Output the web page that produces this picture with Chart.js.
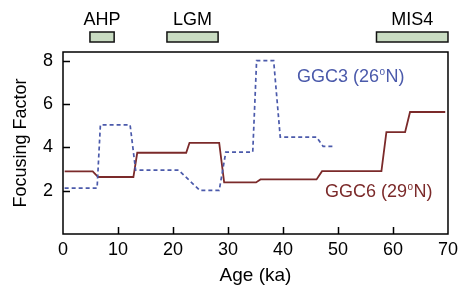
<!DOCTYPE html>
<html>
<head>
<meta charset="utf-8">
<script src="https://cdn.jsdelivr.net/npm/chart.js@4.4.0/dist/chart.umd.min.js"></script>
<style>
  html, body { margin: 0; padding: 0; background: #fff; }
  #wrap { width: 463px; height: 288px; }
</style>
</head>
<body>
<div id="wrap"><canvas id="chart"></canvas></div>
<script>
// GGC6 (29°N), solid maroon
const ggc6Age = [0.3, 5.4, 6.4, 12.8, 13.5, 22.4, 23.0, 28.4, 29.3, 35.1, 35.9, 46.1, 47.1, 57.9, 58.8, 62.2, 63.1, 69.5];
const ggc6Val = [2.89, 2.89, 2.63, 2.63, 3.75, 3.75, 4.21, 4.21, 2.38, 2.38, 2.52, 2.52, 2.9, 2.9, 4.7, 4.7, 5.63, 5.63];

// GGC3 (26°N), dashed blue
const ggc3Age = [0.3, 6.2, 6.8, 12.2, 13.2, 21.0, 24.9, 28.4, 29.6, 34.5, 35.2, 38.3, 39.5, 46.1, 47.3, 49.2];
const ggc3Val = [2.12, 2.12, 5.04, 5.04, 2.95, 2.95, 2.01, 2.01, 3.78, 3.78, 8.0, 8.0, 4.47, 4.47, 4.04, 4.04];

// climate periods on top (ka)
const periodNames = ["AHP", "LGM", "MIS4"];
const periodStart = [4.9, 18.9, 57.0];
const periodEnd = [9.3, 28.2, 70.0];

const xTicks = [0, 10, 20, 30, 40, 50, 60, 70];
const yTicks = [2, 4, 6, 8];

const FONT = "'Liberation Sans', Arial, sans-serif";

const toPoints = (xs, ys) => xs.map((x, i) => ({ x: x, y: ys[i] }));

// frame, inner ticks, period bars and series labels
const decorations = {
  id: "decorations",
  afterDraw(chart) {
    const ctx = chart.ctx;
    const a = chart.chartArea;
    const xs = chart.scales.x;
    const ys = chart.scales.y;
    ctx.save();
    ctx.strokeStyle = "#000";
    ctx.lineWidth = 1.5;
    ctx.strokeRect(a.left, a.top, a.right - a.left, a.bottom - a.top);

    ctx.beginPath();
    xTicks.slice(1, -1).forEach(v => {
      const px = Math.round(xs.getPixelForValue(v)) + 0.5;
      ctx.moveTo(px, a.bottom);
      ctx.lineTo(px, a.bottom - 7);
    });
    yTicks.forEach(v => {
      const py = Math.round(ys.getPixelForValue(v)) + 0.5;
      ctx.moveTo(a.left, py);
      ctx.lineTo(a.left + 7, py);
    });
    ctx.stroke();

    // period bars
    ctx.font = "18px " + FONT;
    ctx.textAlign = "center";
    ctx.textBaseline = "middle";
    periodNames.forEach((name, i) => {
      const x0 = xs.getPixelForValue(periodStart[i]);
      const x1 = xs.getPixelForValue(periodEnd[i]);
      ctx.fillStyle = "#c9dcc2";
      ctx.fillRect(x0, 32, x1 - x0, 10);
      ctx.strokeStyle = "#111";
      ctx.lineWidth = 1.5;
      ctx.strokeRect(x0, 32, x1 - x0, 10);
      ctx.fillStyle = "#000";
      ctx.fillText(name, (x0 + x1) / 2, 20);
    });

    // series labels
    const label = (txt, x, y, color) => {
      ctx.fillStyle = color;
      ctx.textAlign = "left";
      ctx.font = "18px " + FONT;
      const parts = txt.split("°");
      ctx.fillText(parts[0], x, y);
      let w = ctx.measureText(parts[0]).width;
      ctx.font = "10px " + FONT;
      ctx.fillText("o", x + w + 0.5, y - 5);
      w += ctx.measureText("o").width + 1;
      ctx.font = "18px " + FONT;
      ctx.fillText(parts[1], x + w, y);
    };
    label("GGC3 (26°N)", 297, 77, "#4b5aab");
    label("GGC6 (29°N)", 325, 192, "#7b2a2a");
    ctx.restore();
  }
};

new Chart(document.getElementById("chart"), {
  type: "line",
  data: {
    datasets: [
      {
        label: "GGC3 (26°N)",
        data: toPoints(ggc3Age, ggc3Val),
        borderColor: "#4b5aab",
        borderWidth: 1.7,
        borderDash: [4, 3],
        pointRadius: 0,
        tension: 0,
      },
      {
        label: "GGC6 (29°N)",
        data: toPoints(ggc6Age, ggc6Val),
        borderColor: "#7b2a2a",
        borderWidth: 1.8,
        pointRadius: 0,
        tension: 0,
      },
    ],
  },
  options: {
    responsive: true,
    maintainAspectRatio: false,
    animation: false,
    layout: { padding: { left: 0, right: 10, top: 52, bottom: 0 } },
    plugins: {
      legend: { display: false },
      tooltip: { enabled: false },
    },
    scales: {
      x: {
        type: "linear",
        min: 0,
        max: 70,
        afterBuildTicks: s => { s.ticks = xTicks.map(v => ({ value: v })); },
        afterFit: s => { s.height = 54; },
        grid: { display: false, drawTicks: false },
        border: { display: false },
        ticks: {
          color: "#000",
          font: { family: FONT, size: 18 },
          padding: 5,
          maxRotation: 0,
        },
        title: {
          display: true,
          text: "Age (ka)",
          color: "#000",
          font: { family: FONT, size: 19 },
          padding: { top: 0, bottom: 1 },
        },
      },
      y: {
        type: "linear",
        min: 0,
        max: 8.4,
        afterBuildTicks: s => { s.ticks = yTicks.map(v => ({ value: v })); },
        afterFit: s => { s.width = 63; },
        grid: { display: false, drawTicks: false },
        border: { display: false },
        ticks: {
          color: "#000",
          font: { family: FONT, size: 18 },
          padding: 10,
        },
        title: {
          display: true,
          text: "Focusing Factor",
          color: "#000",
          font: { family: FONT, size: 18 },
          padding: { top: 10, bottom: 0 },
        },
      },
    },
  },
  plugins: [decorations],
});
</script>
</body>
</html>
